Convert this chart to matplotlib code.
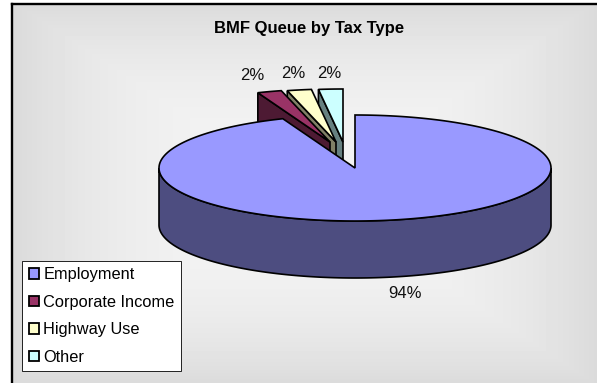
import numpy as np
import matplotlib
matplotlib.use("Agg")
import matplotlib.pyplot as plt
from matplotlib.patches import Polygon, Patch

categories = ["Employment", "Corporate Income", "Highway Use", "Other"]
shares = [94, 2, 2, 2]
top_colors = ["#9999FF", "#993366", "#FFFFCC", "#CCFFFF"]
side_colors = ["#4D4D80", "#4D1A33", "#808066", "#668080"]
title_text = "BMF Queue by Tax Type"

W, H = 597, 383
CX, CY, RX, RY, DEPTH = 355.0, 168.0, 196.0, 53.0, 57.0
# Pull-out of each slice from the pie centre, in pixels
OFFSETS = [(0, 0), (-25, -26), (-19, -26), (-12, -26)]
LABEL_POS = [(405, 293), (252, 75), (293, 73), (329, 73)]
EDGE = 1.2

plt.rcParams["font.family"] = ["Liberation Sans", "DejaVu Sans"]
fig = plt.figure(figsize=(W / 100, H / 100), dpi=100, facecolor="white")
ax = fig.add_axes([0, 0, 1, 1])

# Rectangular path gradient for the chart area
yy, xx = np.mgrid[0:H, 0:W]
d = np.maximum(np.abs(xx - 305) / 305.0, np.abs(yy - 193) / 200.0)
shade = 0.955 - 0.11 * np.clip(d, 0, 1) ** 2.5
ax.imshow(shade, extent=(0, W, H, 0), cmap="gray", vmin=0, vmax=1,
          interpolation="bilinear", zorder=0, aspect="auto")
ax.add_patch(plt.Rectangle((0, 0), 12, H, fc="white", ec="none", zorder=1))
ax.add_patch(plt.Rectangle((0, 0), W, 4, fc="white", ec="none", zorder=1))
ax.plot([12, 12], [H + 2, 4], color="black", lw=1.7, zorder=2, solid_capstyle="projecting")
ax.plot([12, W + 2], [4, 4], color="black", lw=1.7, zorder=2, solid_capstyle="projecting")


def rim(start, stop, dx=0.0, dy=0.0, n=240):
    """Points on the pie rim between two clockwise angles from 12 o'clock."""
    t = np.radians(np.linspace(start, stop, n))
    return np.column_stack((CX + dx + RX * np.sin(t), CY + dy - RY * np.cos(t)))


def add_poly(pts, color, z):
    ax.add_patch(Polygon(pts, closed=True, fc=color, ec="black", lw=EDGE,
                         joinstyle="miter", zorder=z))


fractions = np.array(shares) / sum(shares) * 360.0
ends = np.cumsum(fractions)
starts = ends - fractions

# Pulled-out slices, furthest clockwise first so nearer ones overlap them
z = 3
for i in range(len(shares) - 1, 0, -1):
    dx, dy = OFFSETS[i]
    apex = np.array([CX + dx, CY + dy])
    arc = rim(starts[i], ends[i], dx, dy)
    outer = arc[0]
    face = [outer, apex, apex + (0, DEPTH), outer + (0, DEPTH)]
    add_poly(face, side_colors[i], z)
    add_poly(np.vstack((apex, arc)), top_colors[i], z + 0.5)
    z += 1

# Main slice: front wall, then top surface
upper = rim(90, 270)
lower = rim(270, 90, 0, DEPTH)
add_poly(np.vstack((upper, lower)), side_colors[0], 10)
arc0 = rim(starts[0], ends[0], n=500)
add_poly(np.vstack(((CX, CY), arc0)), top_colors[0], 11)

# Percentage labels
for share, (lx, ly) in zip(shares, LABEL_POS):
    ax.text(lx, ly, f"{share}%", ha="center", va="center", fontsize=12, color="#111111", zorder=12)

ax.text(309, 28, title_text, ha="center", va="center", fontsize=12, fontweight="bold",
        color="black", zorder=12)

handles = [Patch(fc=c, ec="black", lw=1.3) for c in top_colors]
leg = ax.legend(handles, categories, loc="lower left", fontsize=11.8,
                bbox_to_anchor=(22.5 / W, 1 - 371 / H), bbox_transform=ax.transAxes,
                frameon=True, fancybox=False, framealpha=1, facecolor="white",
                edgecolor="black", borderaxespad=0, borderpad=0.38,
                handlelength=0.6, handleheight=0.6, handletextpad=0.28,
                labelspacing=0.76)
leg.get_frame().set_linewidth(0.6)
leg.set_zorder(13)

ax.set_xlim(0, W)
ax.set_ylim(H, 0)
ax.axis("off")
fig.savefig("out.png", dpi=100)
